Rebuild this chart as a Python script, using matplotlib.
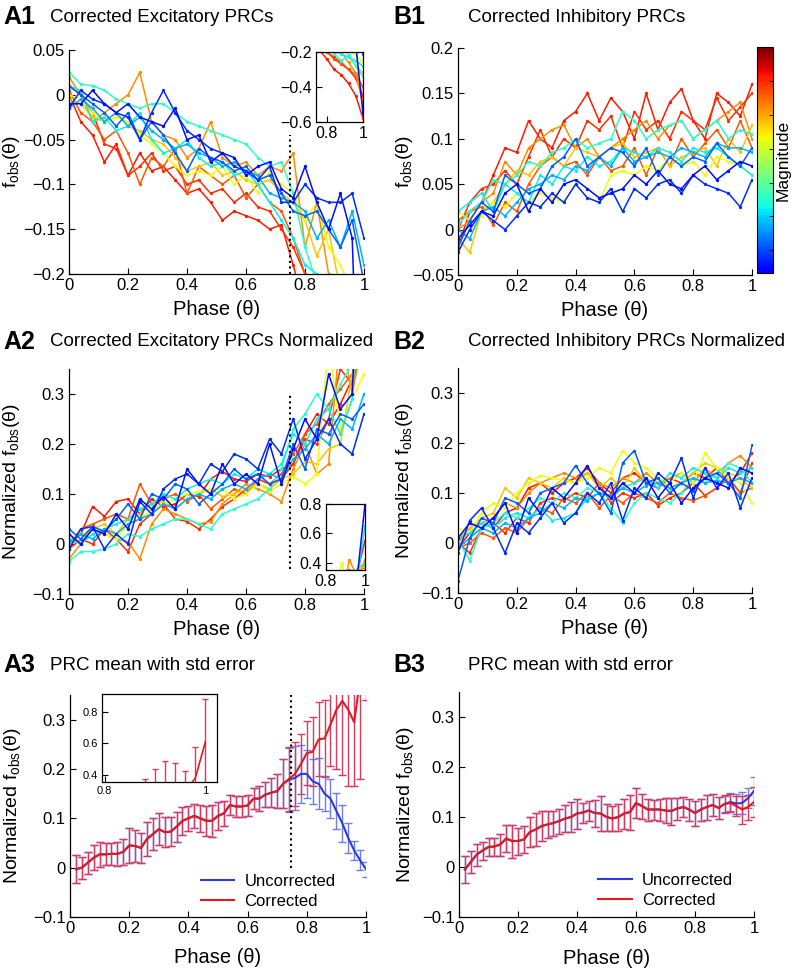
import numpy as np
import matplotlib
matplotlib.use('Agg')
import matplotlib.pyplot as plt
from matplotlib.colors import ListedColormap
from matplotlib.cm import ScalarMappable
from matplotlib.lines import Line2D
from matplotlib.ticker import FuncFormatter

plt.rcParams['font.family'] = ['Liberation Sans', 'DejaVu Sans']
plt.rcParams['mathtext.fontset'] = 'custom'
plt.rcParams['mathtext.rm'] = 'Liberation Sans'
plt.rcParams['mathtext.it'] = 'Liberation Sans:italic'

# phase grid of the single PRC traces
phase = [0.00, 0.04, 0.08, 0.12, 0.16, 0.20, 0.24, 0.28, 0.32, 0.36, 0.40, 0.44, 0.48,
         0.52, 0.56, 0.60, 0.64, 0.68, 0.72, 0.76, 0.80, 0.84, 0.88, 0.92, 0.96, 1.00]

# stimulus magnitude of each trace (position on the jet colour map)
magnitude = [0.88, 0.86, 0.82, 0.76, 0.70, 0.64, 0.40, 0.36, 0.30, 0.22, 0.17, 0.14]

# A1: corrected excitatory PRCs
exc_prc = [
    [0.000, -0.030, -0.045, -0.075, -0.055, -0.090, -0.065, -0.085, -0.080, -0.095, -0.110, -0.105, -0.120,
     -0.140, -0.130, -0.135, -0.140, -0.150, -0.145, -0.190, -0.240, -0.300, -0.330, -0.380, -0.450, -0.580],
    [0.010, 0.000, -0.020, -0.055, -0.060, -0.090, -0.080, -0.065, -0.085, -0.080, -0.100, -0.095, -0.110,
     -0.105, -0.120, -0.110, -0.125, -0.130, -0.150, -0.170, -0.200, -0.230, -0.260, -0.300, -0.350, -0.450],
    [0.005, -0.020, -0.030, -0.050, -0.040, -0.065, -0.100, -0.070, -0.080, -0.060, -0.110, -0.080, -0.090,
     -0.100, -0.090, -0.115, -0.100, -0.120, -0.130, -0.160, -0.200, -0.240, -0.270, -0.300, -0.330, -0.400],
    [0.020, 0.000, -0.030, -0.020, -0.010, 0.000, 0.025, -0.030, -0.045, -0.050, -0.070, -0.060, -0.030,
     -0.070, -0.080, -0.075, -0.090, -0.080, -0.085, -0.065, -0.170, -0.120, -0.200, -0.260, -0.320, -0.500],
    [-0.005, -0.010, -0.025, -0.030, -0.020, -0.035, -0.040, -0.050, -0.055, -0.070, -0.085, -0.080, -0.075,
     -0.090, -0.085, -0.095, -0.100, -0.095, -0.110, -0.120, -0.140, -0.180, -0.150, -0.220, -0.280, -0.320],
    [0.000, -0.005, -0.020, -0.030, -0.025, -0.030, -0.045, -0.055, -0.065, -0.080, -0.090, -0.085, -0.090,
     -0.080, -0.100, -0.090, -0.110, -0.085, -0.100, -0.110, -0.140, -0.120, -0.170, -0.190, -0.220, -0.260],
    [0.025, 0.012, 0.010, 0.005, -0.005, -0.010, -0.015, -0.010, -0.010, -0.020, -0.030, -0.035, -0.040,
     -0.045, -0.050, -0.055, -0.070, -0.080, -0.075, -0.110, -0.170, -0.210, -0.250, -0.220, -0.280, -0.340],
    [0.010, 0.005, -0.030, -0.025, -0.040, -0.035, -0.020, -0.050, -0.065, -0.060, -0.050, -0.070, -0.080,
     -0.075, -0.090, -0.085, -0.100, -0.120, -0.140, -0.160, -0.190, -0.200, -0.210, -0.230, -0.250, -0.280],
    [-0.015, -0.005, -0.015, -0.030, -0.020, -0.035, -0.025, -0.040, -0.050, -0.060, -0.055, -0.065, -0.070,
     -0.080, -0.075, -0.085, -0.090, -0.110, -0.115, -0.120, -0.130, -0.160, -0.140, -0.170, -0.130, -0.190],
    [0.010, 0.000, -0.010, -0.020, -0.035, -0.020, -0.050, -0.030, -0.045, -0.065, -0.085, -0.060, -0.070,
     -0.075, -0.085, -0.080, -0.095, -0.090, -0.110, -0.130, -0.135, -0.130, -0.150, -0.170, -0.140, -0.210],
    [-0.015, 0.005, -0.005, -0.010, -0.020, -0.025, -0.050, -0.020, 0.005, -0.020, -0.040, -0.050, -0.060,
     -0.065, -0.080, -0.085, -0.095, -0.080, -0.120, -0.120, -0.100, -0.115, -0.120, -0.120, -0.110, -0.160],
    [-0.010, -0.010, 0.005, -0.010, -0.020, -0.010, -0.025, -0.030, -0.035, -0.015, -0.050, -0.045, -0.075,
     -0.065, -0.070, -0.090, -0.080, -0.075, -0.105, -0.115, -0.080, -0.120, -0.150, -0.110, -0.160, -0.550],
]

# A2: corrected excitatory PRCs, normalized
exc_norm = [
    [0.000, 0.020, 0.075, 0.055, 0.085, 0.090, 0.060, 0.090, 0.075, 0.080, 0.100, 0.095, 0.130,
     0.145, 0.130, 0.125, 0.140, 0.135, 0.150, 0.160, 0.220, 0.260, 0.240, 0.280, 0.330, 0.550],
    [-0.010, 0.010, 0.000, 0.030, 0.010, -0.015, 0.040, 0.060, 0.080, 0.050, 0.045, 0.030, 0.050,
     0.075, 0.090, 0.110, 0.130, 0.120, 0.130, 0.160, 0.210, 0.200, 0.250, 0.350, 0.320, 0.400],
    [0.000, 0.030, 0.040, 0.050, 0.060, 0.050, 0.120, 0.080, 0.090, 0.100, 0.085, 0.100, 0.070,
     0.090, 0.110, 0.100, 0.130, 0.120, 0.140, 0.180, 0.220, 0.240, 0.280, 0.310, 0.340, 0.370],
    [-0.030, 0.000, 0.030, 0.020, 0.010, 0.005, -0.030, 0.040, 0.070, 0.060, 0.050, 0.040, 0.045,
     0.080, 0.100, 0.120, 0.110, 0.100, 0.085, 0.150, 0.200, 0.140, 0.160, 0.420, 0.300, 0.420],
    [0.000, 0.010, 0.030, 0.040, 0.020, 0.050, 0.060, 0.080, 0.085, 0.070, 0.090, 0.100, 0.110,
     0.095, 0.100, 0.110, 0.120, 0.110, 0.130, 0.140, 0.165, 0.160, 0.190, 0.200, 0.340, 0.380],
    [0.010, 0.020, 0.030, 0.020, 0.010, 0.040, 0.050, 0.070, 0.080, 0.090, 0.100, 0.105, 0.110,
     0.110, 0.090, 0.100, 0.120, 0.105, 0.120, 0.135, 0.120, 0.140, 0.400, 0.230, 0.290, 0.340],
    [-0.035, -0.015, -0.015, -0.010, 0.000, 0.020, 0.015, 0.030, 0.040, 0.050, 0.050, 0.040, 0.030,
     0.060, 0.070, 0.080, 0.090, 0.110, 0.150, 0.230, 0.260, 0.300, 0.270, 0.320, 0.360, 0.400],
    [0.010, 0.000, 0.020, 0.030, 0.040, 0.050, 0.070, 0.080, 0.100, 0.090, 0.110, 0.120, 0.130,
     0.120, 0.140, 0.130, 0.150, 0.140, 0.160, 0.220, 0.200, 0.250, 0.270, 0.220, 0.290, 0.650],
    [0.005, 0.020, 0.010, 0.030, 0.020, 0.040, 0.050, 0.060, 0.080, 0.070, 0.090, 0.100, 0.090,
     0.110, 0.120, 0.110, 0.130, 0.140, 0.130, 0.170, 0.190, 0.220, 0.200, 0.250, 0.230, 0.300],
    [0.030, 0.010, 0.035, 0.025, 0.050, 0.080, 0.050, 0.100, 0.090, 0.120, 0.110, 0.080, 0.100,
     0.120, 0.150, 0.130, 0.140, 0.120, 0.130, 0.200, 0.150, 0.230, 0.220, 0.260, 0.250, 0.280],
    [-0.010, 0.030, 0.035, -0.010, 0.020, 0.000, 0.085, 0.060, 0.110, 0.130, 0.140, 0.120, 0.160,
     0.145, 0.180, 0.170, 0.150, 0.210, 0.180, 0.250, 0.170, 0.210, 0.250, 0.200, 0.180, 0.260],
    [0.020, 0.000, 0.030, 0.020, 0.060, 0.030, 0.090, 0.070, 0.095, 0.070, 0.150, 0.120, 0.100,
     0.160, 0.120, 0.140, 0.120, 0.200, 0.120, 0.190, 0.250, 0.210, 0.340, 0.270, 0.300, 0.800],
]

# B1: corrected inhibitory PRCs
inh_prc = [
    [-0.020, 0.020, 0.030, 0.060, 0.090, 0.085, 0.120, 0.100, 0.090, 0.120, 0.130, 0.150, 0.120,
     0.145, 0.130, 0.100, 0.150, 0.110, 0.140, 0.155, 0.120, 0.100, 0.150, 0.140, 0.125, 0.160],
    [0.000, 0.030, 0.045, 0.050, 0.065, 0.050, 0.080, 0.110, 0.080, 0.100, 0.090, 0.120, 0.110,
     0.125, 0.090, 0.130, 0.110, 0.120, 0.100, 0.130, 0.120, 0.110, 0.145, 0.120, 0.135, 0.150],
    [0.010, 0.020, 0.025, 0.005, 0.030, 0.020, 0.050, 0.070, 0.080, 0.070, 0.075, 0.060, 0.080,
     0.065, 0.070, 0.090, 0.060, 0.090, 0.070, 0.100, 0.080, 0.095, 0.110, 0.090, 0.120, 0.090],
    [0.000, 0.010, 0.030, 0.040, 0.075, 0.060, 0.090, 0.100, 0.110, 0.115, 0.090, 0.100, 0.080,
     0.090, 0.100, 0.110, 0.120, 0.100, 0.115, 0.120, 0.100, 0.110, 0.120, 0.130, 0.140, 0.100],
    [-0.010, -0.025, 0.020, 0.030, 0.050, 0.065, 0.060, 0.075, 0.080, 0.070, 0.090, 0.085, 0.080,
     0.090, 0.095, 0.080, 0.085, 0.090, 0.070, 0.080, 0.085, 0.090, 0.070, 0.100, 0.085, 0.115],
    [0.020, 0.010, 0.015, 0.030, 0.025, 0.040, 0.030, 0.040, 0.035, 0.030, 0.050, 0.035, 0.030,
     0.060, 0.065, 0.060, 0.070, 0.065, 0.080, 0.070, 0.075, 0.060, 0.080, 0.075, 0.070, 0.060],
    [0.005, 0.020, 0.030, 0.055, 0.050, 0.060, 0.075, 0.070, 0.085, 0.090, 0.100, 0.090, 0.095,
     0.100, 0.130, 0.120, 0.100, 0.110, 0.115, 0.120, 0.100, 0.110, 0.120, 0.100, 0.110, 0.105],
    [0.020, 0.030, 0.040, 0.020, 0.050, 0.040, 0.030, 0.060, 0.050, 0.070, 0.065, 0.080, 0.070,
     0.075, 0.090, 0.085, 0.080, 0.090, 0.085, 0.075, 0.090, 0.085, 0.090, 0.080, 0.070, 0.060],
    [0.000, -0.010, 0.020, 0.025, 0.015, 0.030, 0.045, 0.050, 0.060, 0.055, 0.070, 0.065, 0.080,
     0.070, 0.090, 0.075, 0.080, 0.085, 0.080, 0.090, 0.085, 0.080, 0.095, 0.090, 0.090, 0.085],
    [-0.020, 0.010, 0.030, 0.020, 0.060, 0.050, 0.040, 0.045, 0.070, 0.080, 0.100, 0.070, 0.080,
     0.090, 0.085, 0.070, 0.090, 0.060, 0.080, 0.070, 0.080, 0.075, 0.095, 0.080, 0.070, 0.090],
    [-0.025, 0.000, 0.020, 0.010, 0.000, 0.015, 0.030, 0.025, 0.040, 0.030, 0.050, 0.035, 0.030,
     0.045, 0.020, 0.045, 0.035, 0.050, 0.055, 0.040, 0.060, 0.050, 0.045, 0.040, 0.025, 0.055],
    [-0.010, 0.005, 0.020, 0.015, 0.040, 0.050, 0.020, 0.045, 0.030, 0.050, 0.055, 0.045, 0.035,
     0.040, 0.045, 0.060, 0.050, 0.065, 0.050, 0.045, 0.060, 0.070, 0.055, 0.065, 0.075, 0.070],
]

# B2: corrected inhibitory PRCs, normalized
inh_norm = [
    [-0.010, 0.020, 0.040, 0.030, 0.060, 0.070, 0.110, 0.120, 0.100, 0.120, 0.130, 0.150, 0.120,
     0.100, 0.130, 0.140, 0.120, 0.110, 0.130, 0.120, 0.140, 0.130, 0.150, 0.120, 0.140, 0.180],
    [0.000, -0.020, 0.030, 0.040, 0.020, 0.050, 0.040, 0.080, 0.090, 0.085, 0.100, 0.090, 0.120,
     0.080, 0.100, 0.090, 0.100, 0.075, 0.090, 0.100, 0.120, 0.095, 0.110, 0.130, 0.100, 0.160],
    [-0.010, 0.000, 0.020, 0.010, 0.030, 0.020, 0.050, 0.070, 0.060, 0.090, 0.080, 0.100, 0.070,
     0.095, 0.080, 0.100, 0.090, 0.080, 0.100, 0.090, 0.085, 0.095, 0.110, 0.130, 0.100, 0.110],
    [0.000, 0.030, 0.040, 0.050, 0.080, 0.070, 0.100, 0.120, 0.130, 0.140, 0.130, 0.140, 0.120,
     0.110, 0.130, 0.120, 0.140, 0.120, 0.130, 0.140, 0.120, 0.150, 0.130, 0.160, 0.175, 0.150],
    [0.010, 0.030, 0.050, 0.060, 0.110, 0.090, 0.130, 0.120, 0.110, 0.130, 0.120, 0.140, 0.110,
     0.130, 0.110, 0.150, 0.120, 0.130, 0.110, 0.120, 0.140, 0.160, 0.150, 0.140, 0.130, 0.110],
    [0.030, 0.020, 0.060, 0.080, 0.070, 0.100, 0.120, 0.135, 0.130, 0.125, 0.120, 0.130, 0.150,
     0.140, 0.185, 0.160, 0.150, 0.130, 0.120, 0.140, 0.120, 0.180, 0.150, 0.130, 0.120, 0.080],
    [0.005, -0.035, 0.030, 0.040, 0.060, 0.050, 0.070, 0.090, 0.080, 0.100, 0.090, 0.110, 0.100,
     0.070, 0.040, 0.080, 0.100, 0.090, 0.080, 0.100, 0.130, 0.120, 0.140, 0.160, 0.150, 0.120],
    [0.010, 0.020, 0.040, 0.030, 0.050, 0.060, 0.050, 0.070, 0.045, 0.050, 0.060, 0.090, 0.100,
     0.090, 0.110, 0.120, 0.130, 0.110, 0.140, 0.130, 0.150, 0.140, 0.130, 0.150, 0.140, 0.150],
    [-0.010, 0.010, 0.030, 0.020, 0.040, 0.030, 0.050, 0.060, 0.080, 0.070, 0.090, 0.085, 0.100,
     0.095, 0.110, 0.100, 0.115, 0.120, 0.110, 0.120, 0.130, 0.120, 0.125, 0.120, 0.130, 0.120],
    [-0.075, 0.010, 0.050, 0.040, 0.090, 0.080, 0.060, 0.100, 0.110, 0.120, 0.155, 0.120, 0.100,
     0.060, 0.160, 0.185, 0.120, 0.130, 0.100, 0.120, 0.105, 0.130, 0.140, 0.120, 0.090, 0.195],
    [-0.020, 0.045, 0.070, 0.030, -0.020, 0.040, 0.020, 0.050, 0.080, 0.040, 0.060, 0.100, 0.080,
     0.120, 0.045, 0.110, 0.090, 0.140, 0.120, 0.170, 0.090, 0.150, 0.110, 0.140, 0.070, 0.130],
    [0.010, 0.040, 0.030, 0.050, 0.080, 0.020, 0.090, 0.060, 0.110, 0.090, 0.120, 0.155, 0.110,
     0.090, 0.120, 0.100, 0.130, 0.090, 0.120, 0.080, 0.110, 0.130, 0.120, 0.110, 0.150, 0.140],
]

# A3 / B3: mean PRC with standard error
phase_mean = [0.02, 0.04, 0.06, 0.08, 0.10, 0.12, 0.14, 0.16, 0.18, 0.20,
              0.22, 0.24, 0.26, 0.28, 0.30, 0.32, 0.34, 0.36, 0.38, 0.40,
              0.42, 0.44, 0.46, 0.48, 0.50, 0.52, 0.54, 0.56, 0.58, 0.60,
              0.62, 0.64, 0.66, 0.68, 0.70, 0.72, 0.74, 0.76, 0.78, 0.80,
              0.82, 0.84, 0.86, 0.88, 0.90, 0.92, 0.94, 0.96, 0.98, 1.00]

exc_corr_mean = [-0.003, 0.000, 0.010, 0.020, 0.027, 0.027, 0.028, 0.028, 0.032, 0.045,
                 0.044, 0.040, 0.058, 0.068, 0.078, 0.072, 0.073, 0.083, 0.095, 0.100,
                 0.105, 0.100, 0.095, 0.095, 0.105, 0.110, 0.127, 0.124, 0.124, 0.126,
                 0.140, 0.140, 0.148, 0.152, 0.155, 0.170, 0.180, 0.190, 0.210, 0.232,
                 0.235, 0.260, 0.262, 0.290, 0.320, 0.338, 0.320, 0.295, 0.380, 0.610]
exc_corr_err = [0.028, 0.022, 0.022, 0.025, 0.025, 0.022, 0.022, 0.024, 0.026, 0.035,
                0.033, 0.030, 0.035, 0.033, 0.033, 0.030, 0.030, 0.030, 0.028, 0.025,
                0.025, 0.027, 0.030, 0.032, 0.028, 0.025, 0.020, 0.022, 0.022, 0.022,
                0.022, 0.025, 0.025, 0.030, 0.035, 0.050, 0.065, 0.065, 0.060, 0.065,
                0.070, 0.075, 0.078, 0.083, 0.120, 0.150, 0.155, 0.130, 0.200, 0.270]
# uncorrected equals corrected up to phase 0.72
exc_uncorr_mean = exc_corr_mean[:36] + [0.178, 0.182, 0.190, 0.190, 0.175, 0.170, 0.150,
                                        0.140, 0.115, 0.090, 0.060, 0.035, 0.015, -0.003]
exc_uncorr_err = exc_corr_err[:36] + [0.065, 0.065, 0.058, 0.048, 0.045, 0.052, 0.035,
                                      0.040, 0.037, 0.037, 0.030, 0.020, 0.020, 0.015]

inh_corr_mean = [-0.005, 0.010, 0.025, 0.033, 0.040, 0.041, 0.045, 0.057, 0.052, 0.052,
                 0.055, 0.070, 0.075, 0.082, 0.085, 0.088, 0.092, 0.097, 0.100, 0.107,
                 0.109, 0.113, 0.108, 0.107, 0.100, 0.097, 0.100, 0.107, 0.110, 0.128,
                 0.122, 0.115, 0.115, 0.115, 0.113, 0.112, 0.117, 0.120, 0.115, 0.108,
                 0.115, 0.120, 0.124, 0.118, 0.126, 0.128, 0.122, 0.115, 0.120, 0.130]
inh_corr_err = [0.027, 0.022, 0.022, 0.018, 0.018, 0.018, 0.022, 0.027, 0.033, 0.027,
                0.027, 0.030, 0.033, 0.030, 0.027, 0.025, 0.025, 0.027, 0.030, 0.030,
                0.020, 0.020, 0.027, 0.035, 0.027, 0.025, 0.027, 0.030, 0.035, 0.030,
                0.025, 0.022, 0.020, 0.022, 0.025, 0.027, 0.022, 0.020, 0.022, 0.025,
                0.022, 0.025, 0.022, 0.022, 0.018, 0.018, 0.020, 0.028, 0.025, 0.030]
inh_uncorr_mean = inh_corr_mean[:44] + [0.126, 0.130, 0.127, 0.128, 0.138, 0.152]
inh_uncorr_err = inh_corr_err[:44] + [0.016, 0.018, 0.020, 0.022, 0.020, 0.028]

# phase where the correction starts (dotted line)
exc_cut = 0.75
exc_cut_mean = 0.745

jet = plt.cm.jet
cbar_cmap = ListedColormap(jet(np.linspace(0.11, 1.0, 256)))

RED = '#e41a1c'
RED_ERR = '#d93a5e'
BLUE = '#2b3be0'
BLUE_ERR = '#6f7cf0'

W, H = 794, 972
fig = plt.figure(figsize=(W / 100, H / 100), dpi=100)


def box(l, t, r, b):
    return [l / W, 1 - b / H, (r - l) / W, (b - t) / H]


def fmt(v, pos):
    return ('%g' % round(v, 3)).replace('-', '\u2212')


def style(ax, ylim, yticks, xlim=(0, 1), xticks=(0, 0.2, 0.4, 0.6, 0.8, 1), size=12, full=False):
    ax.set_xlim(*xlim)
    ax.set_ylim(*ylim)
    ax.set_xticks(xticks)
    ax.set_yticks(yticks)
    ax.xaxis.set_major_formatter(FuncFormatter(fmt))
    ax.yaxis.set_major_formatter(FuncFormatter(fmt))
    ax.tick_params(direction='in', length=4, width=0.8, labelsize=size, pad=3,
                   top=False, right=False)
    for s in ax.spines.values():
        s.set_linewidth(0.9)
    if not full:
        ax.spines['top'].set_visible(False)
        ax.spines['right'].set_visible(False)


def draw_traces(ax, traces):
    for y, m in zip(traces, magnitude):
        ax.plot(phase, y, color=jet(m), lw=1.1, marker='o', ms=2.4, mew=0)


def draw_mean(ax, cm, ce, um, ue, lw=1.5, cap=3):
    ax.errorbar(phase_mean, um, yerr=ue, color=BLUE, ecolor=BLUE_ERR, lw=lw,
                elinewidth=1.0, capsize=cap, capthick=1.0)
    ax.errorbar(phase_mean, cm, yerr=ce, color=RED, ecolor=RED_ERR, lw=lw,
                elinewidth=1.0, capsize=cap, capthick=1.0)


def add_legend(ax, x):
    handles = [Line2D([], [], color=BLUE, lw=1.5), Line2D([], [], color=RED, lw=1.5)]
    ax.legend(handles, ['Uncorrected', 'Corrected'], loc='upper left',
              bbox_to_anchor=(x, 0.225), frameon=False, fontsize=12,
              handlelength=2.0, handletextpad=0.6, labelspacing=0.3, borderaxespad=0)


def labels(ax, ylab, ylx, xly=-0.115):
    ax.set_xlabel('Phase (\u03b8)', fontsize=14.5)
    ax.set_ylabel(ylab, fontsize=14)
    ax.xaxis.set_label_coords(0.5, xly)
    ax.yaxis.set_label_coords(ylx, 0.5)


f_lab = 'f$_{\\mathrm{obs}}$(\u03b8)'
nf_lab = 'Normalized ' + f_lab

# ---- A1
ax = fig.add_axes(box(69, 50, 364, 274))
draw_traces(ax, exc_prc)
ax.plot([exc_cut, exc_cut], [-0.2, -0.045], ls=':', color='k', lw=1.5)
style(ax, (-0.2, 0.05), [-0.2, -0.15, -0.1, -0.05, 0, 0.05])
labels(ax, f_lab, -0.16)

ins = fig.add_axes(box(316, 52, 363, 122))
draw_traces(ins, exc_prc)
style(ins, (-0.6, -0.2), [-0.6, -0.4, -0.2], xlim=(0.74, 1), xticks=[0.8, 1], size=11.5, full=True)

# ---- B1
ax = fig.add_axes(box(458, 48, 752, 275))
draw_traces(ax, inh_prc)
style(ax, (-0.05, 0.2), [-0.05, 0, 0.05, 0.1, 0.15, 0.2])
labels(ax, f_lab, -0.145)

cax = fig.add_axes(box(757, 47, 773, 273))
cb = fig.colorbar(ScalarMappable(cmap=cbar_cmap), cax=cax)
cb.set_ticks([0.1, 0.25, 0.4, 0.55, 0.7, 0.85])
cb.ax.tick_params(direction='in', length=3, width=0.6, labelright=False)
cb.outline.set_linewidth(0.8)
cb.set_label('Magnitude', fontsize=12.5, labelpad=2)

# ---- A2
ax = fig.add_axes(box(69, 369, 364, 594))
draw_traces(ax, exc_norm)
ax.plot([exc_cut, exc_cut], [-0.05, 0.3], ls=':', color='k', lw=1.5)
style(ax, (-0.1, 0.35), [-0.1, 0, 0.1, 0.2, 0.3])
labels(ax, nf_lab, -0.16)

ins = fig.add_axes(box(326, 504, 365, 570))
draw_traces(ins, exc_norm)
style(ins, (0.35, 0.8), [0.4, 0.6, 0.8], xlim=(0.8, 1), xticks=[0.8, 1], size=11.5, full=True)

# ---- B2
ax = fig.add_axes(box(458, 368, 752, 593))
draw_traces(ax, inh_norm)
style(ax, (-0.1, 0.35), [-0.1, 0, 0.1, 0.2, 0.3])
labels(ax, nf_lab, -0.145)

# ---- A3
ax = fig.add_axes(box(70, 695, 366, 917))
draw_mean(ax, exc_corr_mean, exc_corr_err, exc_uncorr_mean, exc_uncorr_err)
ax.plot([exc_cut_mean, exc_cut_mean], [0.0, 0.35], ls=':', color='k', lw=1.5)
style(ax, (-0.1, 0.35), [-0.1, 0, 0.1, 0.2, 0.3])
labels(ax, nf_lab, -0.16, xly=-0.14)
add_legend(ax, 0.42)

ins = fig.add_axes(box(102, 694, 217, 782))
draw_mean(ins, exc_corr_mean, exc_corr_err, exc_uncorr_mean, exc_uncorr_err, lw=1.2, cap=2.5)
style(ins, (0.355, 0.913), [0.4, 0.6, 0.8], xlim=(0.795, 1.023), xticks=[0.8, 1], size=8, full=True)

# ---- B3
ax = fig.add_axes(box(459, 692, 754, 917))
draw_mean(ax, inh_corr_mean, inh_corr_err, inh_uncorr_mean, inh_uncorr_err)
style(ax, (-0.1, 0.35), [-0.1, 0, 0.1, 0.2, 0.3])
labels(ax, nf_lab, -0.145, xly=-0.14)
add_legend(ax, 0.45)

# ---- panel letters and titles
panels = [('A1', 'Corrected Excitatory PRCs', 3, 50, 17),
          ('B1', 'Corrected Inhibitory PRCs', 393, 468, 17),
          ('A2', 'Corrected Excitatory PRCs Normalized', 3, 50, 342),
          ('B2', 'Corrected Inhibitory PRCs Normalized', 393, 468, 342),
          ('A3', 'PRC mean with std error', 3, 50, 665),
          ('B3', 'PRC mean with std error', 393, 468, 665)]
for tag, title, xt, xs, y in panels:
    fig.text(xt / W, 1 - y / H, tag, fontsize=18, fontweight='bold', va='center')
    fig.text(xs / W, 1 - y / H, title, fontsize=13.5, va='center')

fig.savefig('out.png', dpi=100)
